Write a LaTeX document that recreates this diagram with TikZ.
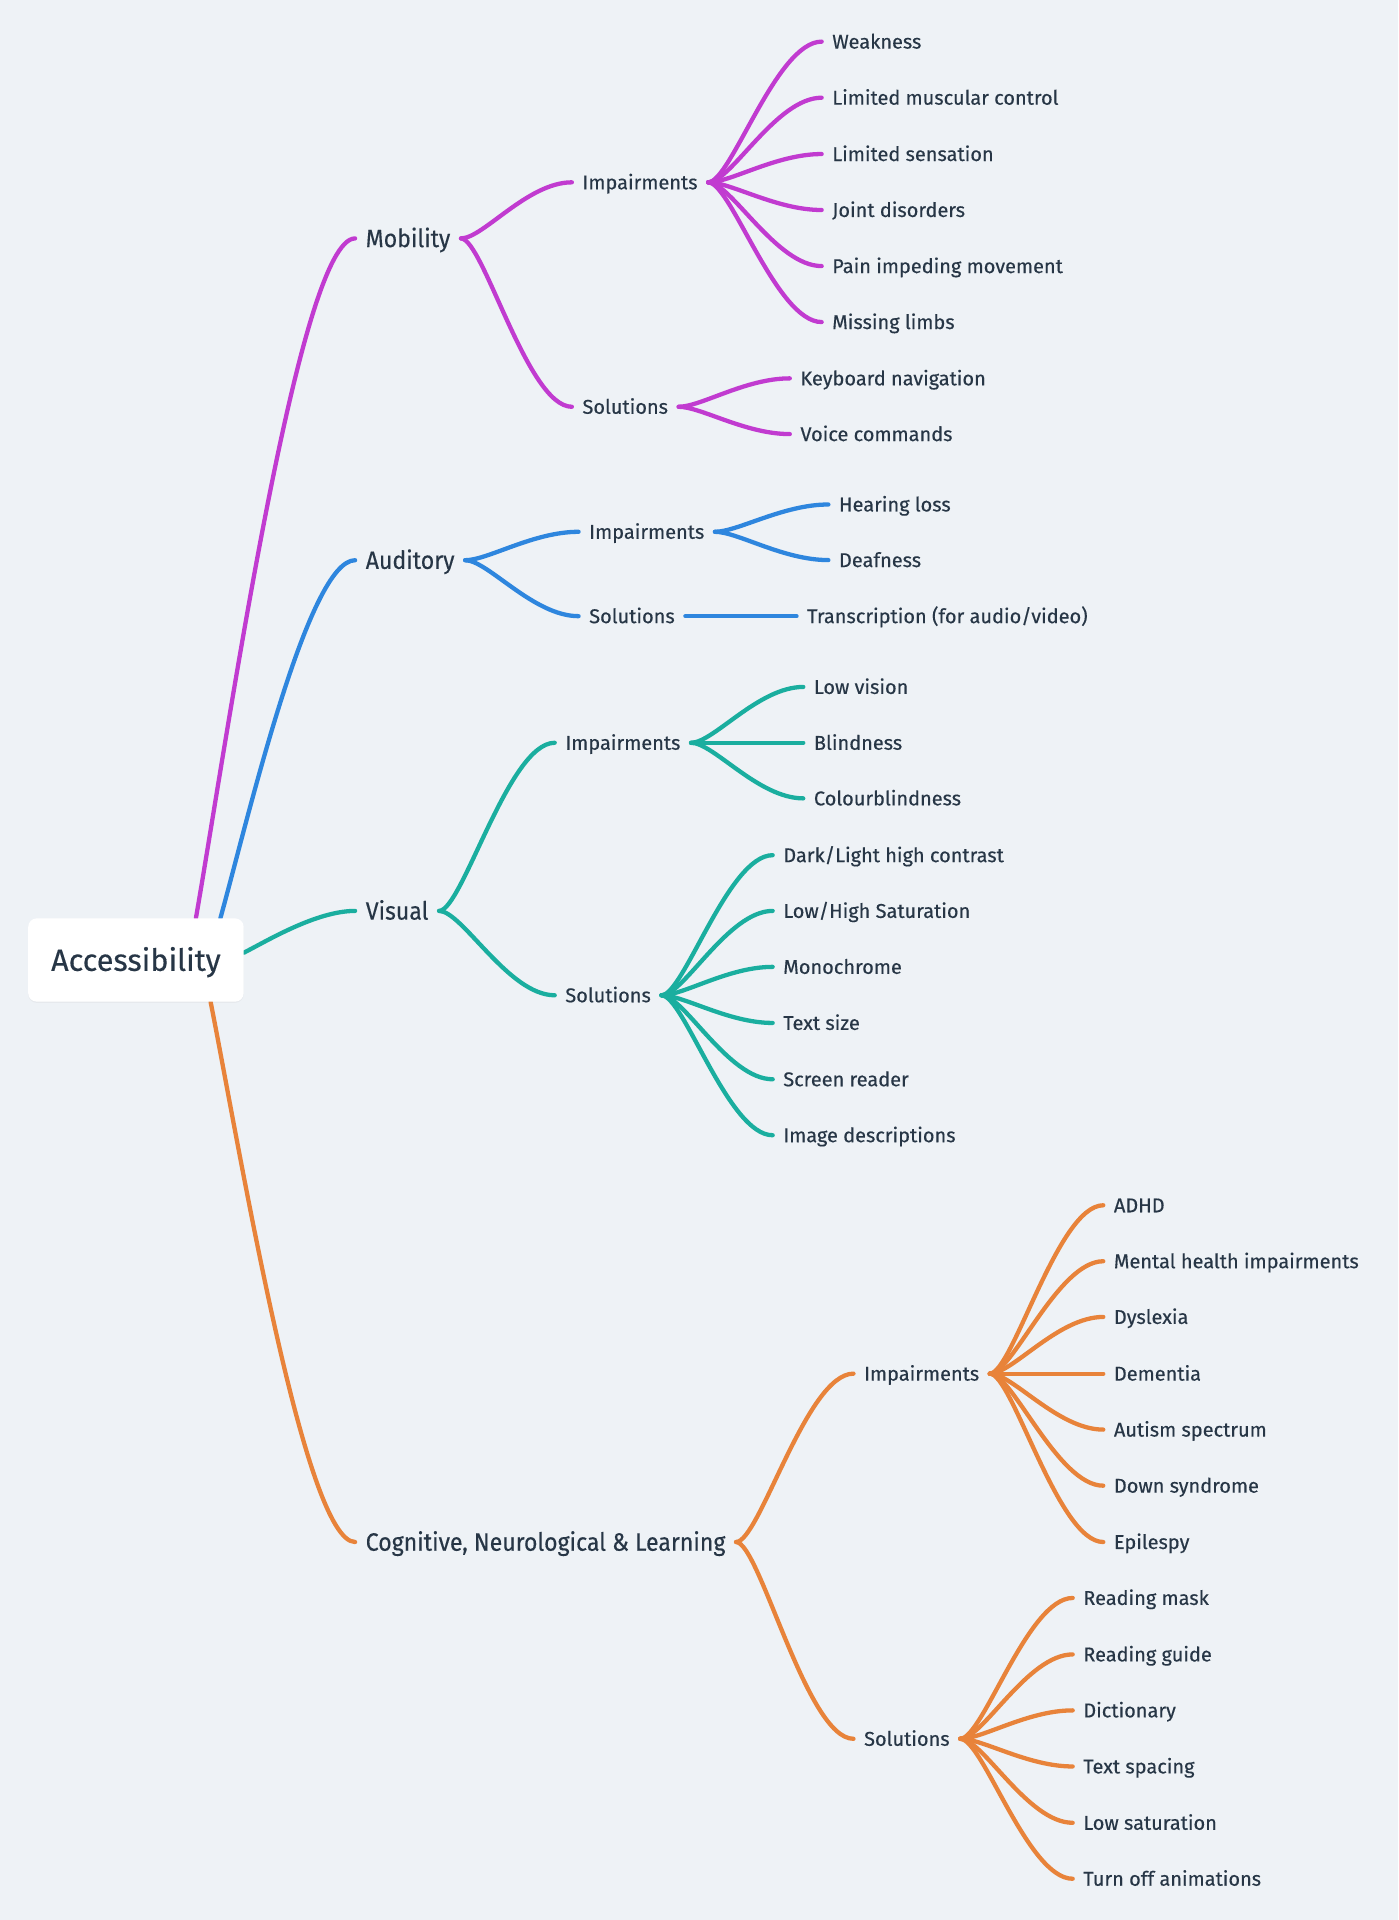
\documentclass[tikz,border=0pt]{standalone}
\usepackage{fontspec}
\setmainfont[FakeBold=0.35]{Fira Sans}
\newfontfamily\topfont[FakeStretch=0.92,FakeBold=0.35]{Fira Sans}
\usetikzlibrary{calc,shadows}
\definecolor{bg}{HTML}{EEF2F6}
\definecolor{ink}{HTML}{273646}
\definecolor{cMob}{HTML}{C13BD0}
\definecolor{cAud}{HTML}{2E86DE}
\definecolor{cVis}{HTML}{1AAE9F}
\definecolor{cCog}{HTML}{E8833A}
\pgfdeclarelayer{background}
\pgfsetlayers{background,main}
\begin{document}
\begin{tikzpicture}[x=1pt,y=-1pt,
  every node/.style={text=ink, inner ysep=0pt},
  leaf/.style={anchor=west, font=\fontsize{16.3}{18}\selectfont, inner xsep=8.5pt, text height=11.4pt, text depth=0pt},
  top/.style={anchor=west, font=\topfont\fontsize{20.5}{24}\selectfont, inner xsep=8.5pt, text height=14.2pt, text depth=0pt},
  rootbox/.style={fill=white, rounded corners=7pt, minimum width=176pt, minimum height=68pt, inner sep=0pt,
    font=\fontsize{25}{30}\selectfont, text height=17.7pt, text depth=0pt,
    drop shadow={shadow xshift=0pt, shadow yshift=-1pt, opacity=0.07}},
  br/.style={line width=3.5pt, line cap=round, to path={let \p1=(\tikztostart), \p2=(\tikztotarget) in (\p1) .. controls ({\x1+0.2*(\x2-\x1)},\y1) and ({\x1+0.6*(\x2-\x1)},\y2) .. (\p2)}},
  rootbr/.style={line width=3.5pt, line cap=round, to path={let \p1=(\tikztostart), \p2=(\tikztotarget) in (\p1) .. controls ({\x1+0.2*(\x2-\x1)},{\y1+0.27*(\y2-\y1)}) and ({\x2-0.35*(\x2-\x1)},\y2) .. (\p2)}},
]
\useasboundingbox (0,0) rectangle (1142,1568);

% root
\node[rootbox] (root) at (111,784) {Accessibility};

% level 1
\node[top] (mob) at (290,194.7) {Mobility};
\node[top] (aud) at (290,457.5) {Auditory};
\node[top] (vis) at (290,743.9) {Visual};
\node[top] (cog) at (290,1259.3) {Cognitive, Neurological \& Learning};

% level 2
\node[leaf] (mobI) at (467,148.9) {Impairments};
\node[leaf] (mobS) at (467,332.2) {Solutions};
\node[leaf] (audI) at (472.5,434.3) {Impairments};
\node[leaf] (audS) at (472.5,503.2) {Solutions};
\node[leaf] (visI) at (453,606.6) {Impairments};
\node[leaf] (visS) at (453,812.8) {Solutions};
\node[leaf] (cogI) at (697,1121.8) {Impairments};
\node[leaf] (cogS) at (697,1420) {Solutions};

% leaves: mobility
\node[leaf] (m1) at (671,34) {Weakness};
\node[leaf] (m2) at (671,79.8) {Limited muscular control};
\node[leaf] (m3) at (671,125.8) {Limited sensation};
\node[leaf] (m4) at (671,171.5) {Joint disorders};
\node[leaf] (m5) at (671,217.3) {Pain impeding movement};
\node[leaf] (m6) at (671,263) {Missing limbs};
\node[leaf] (ms1) at (645,309) {Keyboard navigation};
\node[leaf] (ms2) at (645,354.5) {Voice commands};
% auditory
\node[leaf] (a1) at (676.5,412) {Hearing loss};
\node[leaf] (a2) at (676.5,457.4) {Deafness};
\node[leaf] (as1) at (650.5,503.2) {Transcription (for audio/video)};
% visual
\node[leaf] (v1) at (656,561) {Low vision};
\node[leaf] (v2) at (656,606.6) {Blindness};
\node[leaf] (v3) at (656,652) {Colourblindness};
\node[leaf] (vs1) at (631,698.4) {Dark/Light high contrast};
\node[leaf] (vs2) at (631,743.9) {Low/High Saturation};
\node[leaf] (vs3) at (631,789.6) {Monochrome};
\node[leaf] (vs4) at (631,835.4) {Text size};
\node[leaf] (vs5) at (631,881.4) {Screen reader};
\node[leaf] (vs6) at (631,927.1) {Image descriptions};
% cognitive
\node[leaf] (c1) at (901,984.3) {ADHD};
\node[leaf] (c2) at (901,1030) {Mental health impairments};
\node[leaf] (c3) at (901,1075.5) {Dyslexia};
\node[leaf] (c4) at (901,1121.8) {Dementia};
\node[leaf] (c5) at (901,1167.5) {Autism spectrum};
\node[leaf] (c6) at (901,1213.3) {Down syndrome};
\node[leaf] (c7) at (901,1259.3) {Epilespy};
\node[leaf] (cs1) at (876,1305) {Reading mask};
\node[leaf] (cs2) at (876,1351.1) {Reading guide};
\node[leaf] (cs3) at (876,1396.8) {Dictionary};
\node[leaf] (cs4) at (876,1442.6) {Text spacing};
\node[leaf] (cs5) at (876,1488.6) {Low saturation};
\node[leaf] (cs6) at (876,1534.3) {Turn off animations};

\begin{pgfonlayer}{background}
\fill[bg] (0,0) rectangle (1142,1568);
% root branches
\draw[rootbr,cMob] ([xshift=49pt]root.north) to (mob.west);
\draw[rootbr,cAud] ([xshift=69pt]root.north) to (aud.west);
\draw[rootbr,cVis] ([yshift=6pt]root.east) to (vis.west);
\draw[rootbr,cCog] ([xshift=61pt]root.south) to (cog.west);
% mobility
\begin{scope}[cMob]
\draw[br] (mob.east) to (mobI.west);
\draw[br] (mob.east) to (mobS.west);
\foreach \k in {m1,m2,m3,m4,m5,m6} \draw[br] (mobI.east) to (\k.west);
\foreach \k in {ms1,ms2} \draw[br] (mobS.east) to (\k.west);
\end{scope}
% auditory
\begin{scope}[cAud]
\draw[br] (aud.east) to (audI.west);
\draw[br] (aud.east) to (audS.west);
\foreach \k in {a1,a2} \draw[br] (audI.east) to (\k.west);
\draw[br] (audS.east) to (as1.west);
\end{scope}
% visual
\begin{scope}[cVis]
\draw[br] (vis.east) to (visI.west);
\draw[br] (vis.east) to (visS.west);
\foreach \k in {v1,v2,v3} \draw[br] (visI.east) to (\k.west);
\foreach \k in {vs1,vs2,vs3,vs4,vs5,vs6} \draw[br] (visS.east) to (\k.west);
\end{scope}
% cognitive
\begin{scope}[cCog]
\draw[br] (cog.east) to (cogI.west);
\draw[br] (cog.east) to (cogS.west);
\foreach \k in {c1,c2,c3,c4,c5,c6,c7} \draw[br] (cogI.east) to (\k.west);
\foreach \k in {cs1,cs2,cs3,cs4,cs5,cs6} \draw[br] (cogS.east) to (\k.west);
\end{scope}
\end{pgfonlayer}
\end{tikzpicture}
\end{document}
